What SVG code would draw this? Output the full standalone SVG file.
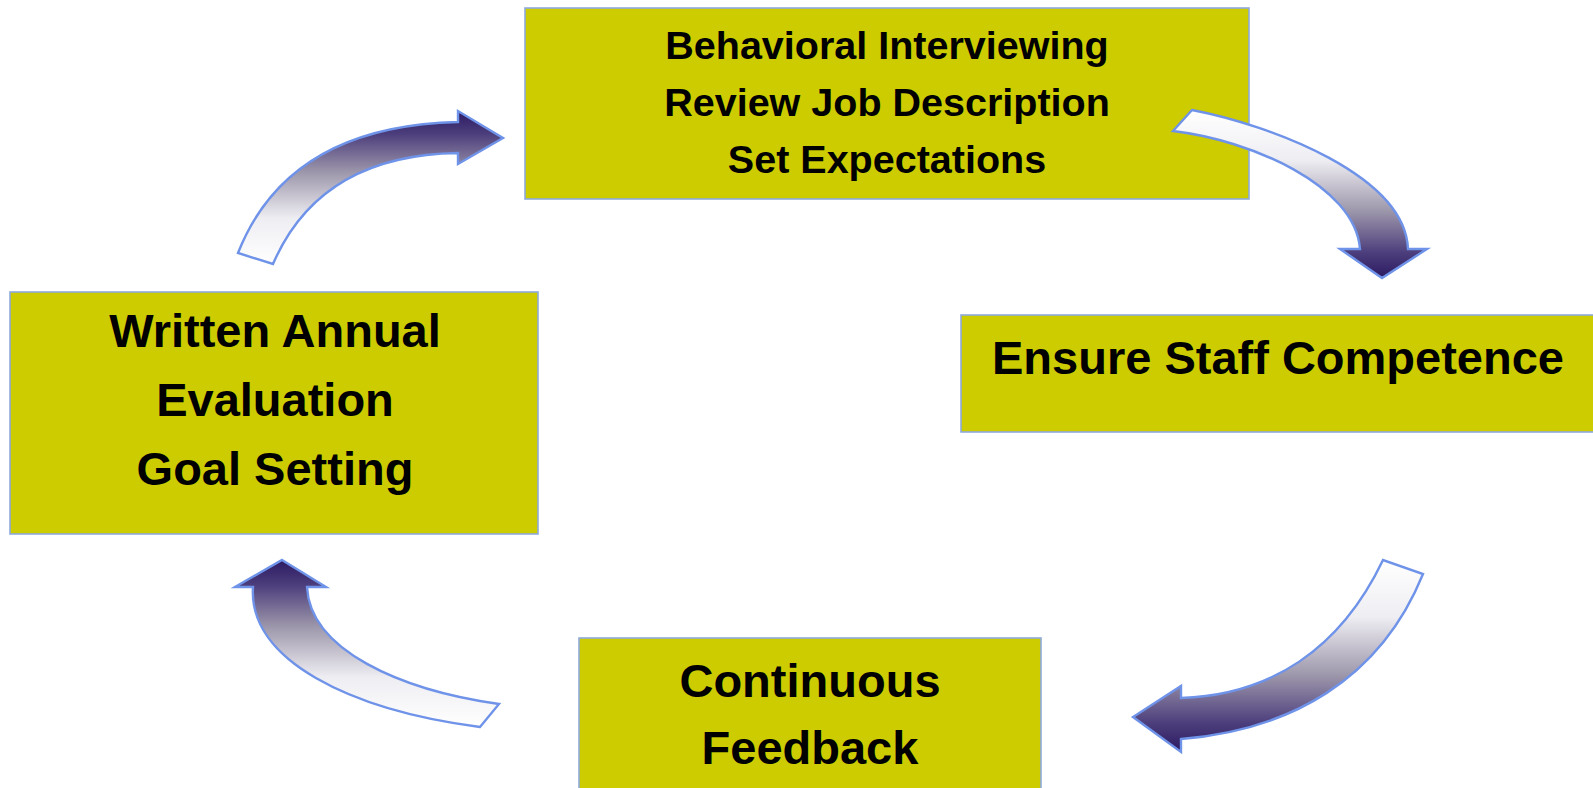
<svg xmlns="http://www.w3.org/2000/svg" width="1593" height="788" viewBox="0 0 1593 788">
  <style>
    .box { fill: #cccc00; stroke: #8eaadc; stroke-width: 1.6; }
    .lbl { font-family: "Liberation Sans", Arial, sans-serif; font-weight: bold; fill: #000; text-anchor: middle; }
    .big { font-size: 47px; }
    .small { font-size: 39.5px; }
    .arrow { stroke: #6f93e8; stroke-width: 2.4; stroke-linejoin: miter; }
  </style>
  <defs>
    <!-- shading runs from a white tail to a deep purple head -->
    <linearGradient id="gradDown" x1="0" y1="0" x2="0" y2="1">
      <stop offset="0" stop-color="#ffffff"/>
      <stop offset="0.3" stop-color="#eeedf2"/>
      <stop offset="0.6" stop-color="#9d97ab"/>
      <stop offset="0.85" stop-color="#4c3e7c"/>
      <stop offset="1" stop-color="#2c1a62"/>
    </linearGradient>
    <linearGradient id="gradUp" x1="0" y1="1" x2="0" y2="0">
      <stop offset="0" stop-color="#ffffff"/>
      <stop offset="0.3" stop-color="#eeedf2"/>
      <stop offset="0.6" stop-color="#9d97ab"/>
      <stop offset="0.85" stop-color="#4c3e7c"/>
      <stop offset="1" stop-color="#2c1a62"/>
    </linearGradient>
  </defs>

  <rect width="1593" height="788" fill="#ffffff"/>

  <g id="node-hiring">
    <rect class="box" x="525" y="8" width="724" height="191"/>
    <text class="lbl small" x="887" y="59">Behavioral Interviewing</text>
    <text class="lbl small" x="887" y="116">Review Job Description</text>
    <text class="lbl small" x="887" y="173">Set Expectations</text>
  </g>

  <g id="node-competence">
    <rect class="box" x="961" y="315" width="640" height="117"/>
    <text class="lbl big" x="1278" y="374">Ensure Staff Competence</text>
  </g>

  <g id="node-feedback">
    <rect class="box" x="579" y="638" width="462" height="160"/>
    <text class="lbl big" x="810" y="697">Continuous</text>
    <text class="lbl big" x="810" y="764">Feedback</text>
  </g>

  <g id="node-evaluation">
    <rect class="box" x="10" y="292" width="528" height="242"/>
    <text class="lbl big" x="275" y="347">Written Annual</text>
    <text class="lbl big" x="275" y="416">Evaluation</text>
    <text class="lbl big" x="275" y="485">Goal Setting</text>
  </g>

  <g id="connectors">
    <!-- evaluation -> hiring -->
    <path class="arrow" fill="url(#gradUp)" d="M238,253 Q288,126 458,122 L458,111 L503,138 L458,164 L458,153 Q320,155 273,264 Z"/>
    <!-- hiring -> competence -->
    <path class="arrow" fill="url(#gradDown)" d="M1192,110 C1270,125 1405,175 1408,249 L1427,249 L1382,278 L1340,249 L1360,249 C1355,185 1250,140 1173,131 Z"/>
    <!-- competence -> feedback -->
    <path class="arrow" fill="url(#gradDown)" d="M1423,574 C1380,680 1290,730 1181,739 L1181,752 L1133,717 L1181,686 L1181,698 C1270,695 1340,650 1383,560 Z"/>
    <!-- feedback -> evaluation -->
    <path class="arrow" fill="url(#gradUp)" d="M282,560 L326,587 L307,587 C310,650 400,690 499,704 L480,727 C350,710 248,660 253,587 L235,587 Z"/>
  </g>
</svg>
